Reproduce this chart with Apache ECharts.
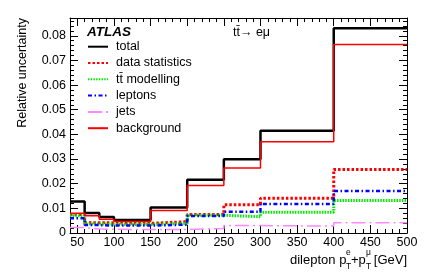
<!DOCTYPE html>
<html>
<head>
<meta charset="utf-8">
<script src="https://cdn.jsdelivr.net/npm/echarts@6/dist/echarts.min.js"></script>
<style>html,body{margin:0;padding:0;background:#fff}#c{width:425px;height:277px}</style>
</head>
<body>
<div id="c"></div>
<script>
// Bin edges (GeV) and relative uncertainties per bin
const edges = [40, 60, 80, 100, 150, 200, 250, 300, 400, 500];
const total = [0.0128, 0.0081, 0.0065, 0.0053, 0.0103, 0.0216, 0.0299, 0.0415, 0.0830];
const dataStatistics = [0.0075, 0.0042, 0.0041, 0.0039, 0.0046, 0.0075, 0.0115, 0.0141, 0.0258];
const ttModelling = [0.0070, 0.0037, 0.0035, 0.0034, 0.0039, 0.0072, 0.0066, 0.0084, 0.0132];
const leptons = [0.0060, 0.0032, 0.0030, 0.0030, 0.0034, 0.0069, 0.0086, 0.0118, 0.0170];
const jets = [0.0022, 0.0016, 0.0015, 0.0014, 0.0014, 0.0018, 0.0030, 0.0028, 0.0042];
const background = [0.0080, 0.0070, 0.0056, 0.0047, 0.0091, 0.0193, 0.0264, 0.0370, 0.0765];
const seriesNames = ['total', 'data statistics', 't\u0074\u0304 modelling', 'leptons', 'jets', 'background'];
const xTickLabels = [50, 100, 150, 200, 250, 300, 350, 400, 450, 500];
const xMinorTicks = [40, 50, 60, 70, 80, 90, 100, 110, 120, 130, 140, 150, 160, 170, 180, 190, 200, 210, 220, 230, 240, 250, 260, 270, 280, 290, 300, 310, 320, 330, 340, 350, 360, 370, 380, 390, 400, 410, 420, 430, 440, 450, 460, 470, 480, 490, 500];
const yTickLabels = [0, 0.01, 0.02, 0.03, 0.04, 0.05, 0.06, 0.07, 0.08];
const yMinorTicks = [0, 0.002, 0.004, 0.006, 0.008, 0.01, 0.012, 0.014, 0.016, 0.018, 0.02, 0.022, 0.024, 0.026, 0.028, 0.03, 0.032, 0.034, 0.036, 0.038, 0.04, 0.042, 0.044, 0.046, 0.048, 0.05, 0.052, 0.054, 0.056, 0.058, 0.06, 0.062, 0.064, 0.066, 0.068, 0.07, 0.072, 0.074, 0.076, 0.078, 0.08, 0.082, 0.084, 0.086];

const FONT = 'Liberation Sans';
const xMin = 40, xMax = 500, yMin = 0, yMax = 0.0872;

function histData(vals) {
  return edges.map((e, i) => [e, vals[Math.min(i, vals.length - 1)]]);
}

function xAx(pos, major) {
  return {
    type: 'value', min: xMin, max: xMax, position: pos,
    axisLine: { show: major, onZero: false, lineStyle: { color: '#000', width: 1 } },
    axisTick: { show: true, inside: true, length: major ? 8 : 4, customValues: major ? xTickLabels : xMinorTicks, lineStyle: { color: '#000', width: 1 } },
    axisLabel: { show: major && pos === 'bottom', customValues: xTickLabels, color: '#000', fontSize: 12.5, fontFamily: FONT, margin: 3 },
    splitLine: { show: false }
  };
}
function yAx(pos, major) {
  return {
    type: 'value', min: yMin, max: yMax, position: pos,
    axisLine: { show: major, onZero: false, lineStyle: { color: '#000', width: 1 } },
    axisTick: { show: true, inside: true, length: major ? 8 : 4, customValues: major ? yTickLabels : yMinorTicks, lineStyle: { color: '#000', width: 1 } },
    axisLabel: { show: major && pos === 'left', customValues: yTickLabels, color: '#000', fontSize: 12.5, fontFamily: FONT, margin: 4,
      formatter: v => (Math.abs(v) < 1e-9 ? '0' : v.toFixed(2)) },
    splitLine: { show: false }
  };
}

function mk(name, vals, color, width, dash, z) {
  return {
    name: name, type: 'line', step: 'end', symbol: 'none', xAxisIndex: 0, yAxisIndex: 0,
    data: histData(vals), z: z,
    lineStyle: { color: color, width: width, type: dash },
    itemStyle: { color: color, opacity: 0 }
  };
}

const chart = echarts.init(document.getElementById('c'), null, { renderer: 'canvas' });
chart.setOption({
  animation: false,
  backgroundColor: '#fff',
  grid: { left: 70, right: 18, top: 18, bottom: 44 },
  xAxis: [xAx('bottom', true), xAx('bottom', false), xAx('top', true), xAx('top', false)],
  yAxis: [yAx('left', true), yAx('left', false), yAx('right', true), yAx('right', false)],
  legend: {
    orient: 'vertical', left: 87, top: 39.7, padding: 0,
    itemWidth: 20, itemHeight: 14, itemGap: 2.3,
    data: seriesNames,
    itemStyle: { opacity: 0 },
    textStyle: { color: '#000', fontSize: 12.5, fontFamily: FONT, lineHeight: 14, padding: [0, 0, 0, 3] }
  },
  graphic: [
    { type: 'text', left: 87, top: 25, style: { text: 'ATLAS', font: 'italic bold 13.5px "Liberation Sans"', fill: '#000' } },
    { type: 'text', left: 233, top: 26, style: { text: 't\u0074\u0304\u2192 e\u03bc', font: '12.5px "Liberation Sans"', fill: '#000' } },
    { type: 'text', x: 23, y: 18, rotation: Math.PI / 2, style: { text: 'Relative uncertainty', font: '12.5px "Liberation Sans"', fill: '#000', align: 'right', verticalAlign: 'middle' } },
    { type: 'text', x: 290, y: 260, style: { text: 'dilepton p', font: '13px "Liberation Sans"', fill: '#000', align: 'left', verticalAlign: 'middle' } },
    { type: 'text', x: 346, y: 253, style: { text: 'e', font: '8.5px "Liberation Sans"', fill: '#000', align: 'left', verticalAlign: 'middle' } },
    { type: 'text', x: 346, y: 267, style: { text: 'T', font: '8.5px "Liberation Sans"', fill: '#000', align: 'left', verticalAlign: 'middle' } },
    { type: 'text', x: 351, y: 260, style: { text: '+p', font: '13px "Liberation Sans"', fill: '#000', align: 'left', verticalAlign: 'middle' } },
    { type: 'text', x: 366, y: 253, style: { text: '\u03bc', font: '8.5px "Liberation Sans"', fill: '#000', align: 'left', verticalAlign: 'middle' } },
    { type: 'text', x: 366, y: 267, style: { text: 'T', font: '8.5px "Liberation Sans"', fill: '#000', align: 'left', verticalAlign: 'middle' } },
    { type: 'text', x: 407, y: 260, style: { text: '[GeV]', font: '13px "Liberation Sans"', fill: '#000', align: 'right', verticalAlign: 'middle' } }
  ],
  series: [
    mk(seriesNames[0], total, '#000000', 2.5, 'solid', 2),
    mk(seriesNames[1], dataStatistics, '#ff0000', 3, [2.5, 2], 3),
    mk(seriesNames[2], ttModelling, '#00ee00', 3, [1.5, 1.2], 3),
    mk(seriesNames[3], leptons, '#0000ff', 2.5, [4, 2.5, 1.5, 2.5], 3),
    mk(seriesNames[4], jets, '#ff88ff', 1.5, [14, 4, 2, 4], 3),
    mk(seriesNames[5], background, '#ff0000', 1.5, 'solid', 4)
  ]
});
</script>
</body>
</html>
